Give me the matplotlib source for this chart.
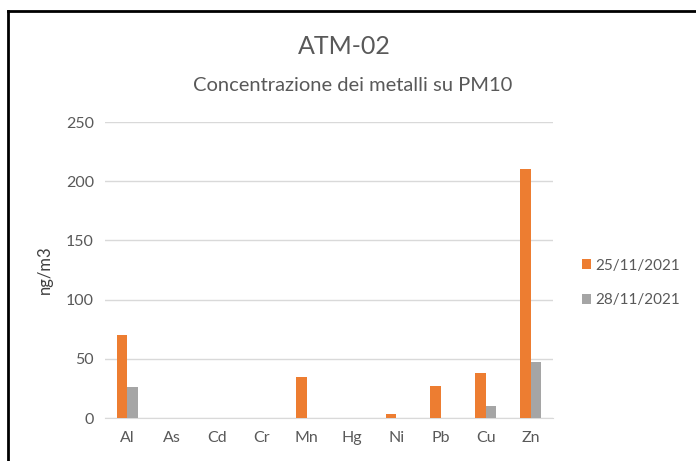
import matplotlib
matplotlib.use("Agg")
import matplotlib.pyplot as plt
import numpy as np
from matplotlib.lines import Line2D

categories = ["Al", "As", "Cd", "Cr", "Mn", "Hg", "Ni", "Pb", "Cu", "Zn"]
series_names = ["25/11/2021", "28/11/2021"]
values_1 = [70, 0, 0, 0, 35, 0, 3, 27, 38, 210]
values_2 = [26, 0, 0, 0, 0, 0, 0, 0, 10, 47]
yticks = [0, 50, 100, 150, 200, 250]

plt.rcParams['font.family'] = ['Lato', 'DejaVu Sans']
txt = '#595959'

fig = plt.figure(figsize=(6.96, 4.61), dpi=100)
ax = fig.add_axes([105/696, 1-418/461, 448/696, (418-122)/461])

x = np.arange(len(categories))
w = 0.235
ax.bar(x - w/2, values_1, w, color='#ED7D31', label=series_names[0], zorder=3)
ax.bar(x + w/2, values_2, w, color='#A5A5A5', label=series_names[1], zorder=3)

ax.set_xlim(-0.5, len(categories) - 0.5)
ax.set_ylim(0, 250)
ax.set_yticks(yticks)
ax.set_xticks(x)
ax.set_xticklabels(categories)
ax.yaxis.grid(True, color='#D9D9D9', linewidth=1, zorder=0)
for s in ['top', 'right', 'left']:
    ax.spines[s].set_visible(False)
ax.spines['bottom'].set_color('#D9D9D9')
ax.tick_params(axis='both', length=0, labelsize=11.5, colors=txt, pad=8)
ax.tick_params(axis='x', pad=9)
ax.set_ylabel('ng/m3', fontsize=12, color='#404040', labelpad=9)

fig.text(344/696, 1-47/461, 'ATM-02', ha='center', va='center', fontsize=18, color=txt)
fig.text(353/696, 1-85/461, 'Concentrazione dei metalli su PM10', ha='center', va='center', fontsize=14.5, color=txt)

ax.legend(loc='center left', bbox_to_anchor=(568/696, 1-283/461), bbox_transform=fig.transFigure,
          frameon=False, fontsize=11, labelcolor=txt, handlelength=0.6, handleheight=0.6,
          handletextpad=0.3, labelspacing=1.35)

fig.add_artist(Line2D([7.5/696, 7.5/696], [0, 1-11.5/461], transform=fig.transFigure, color='black', lw=2))
fig.add_artist(Line2D([7.5/696, 1], [1-11.5/461, 1-11.5/461], transform=fig.transFigure, color='black', lw=2))

fig.savefig('out.png', dpi=100)
